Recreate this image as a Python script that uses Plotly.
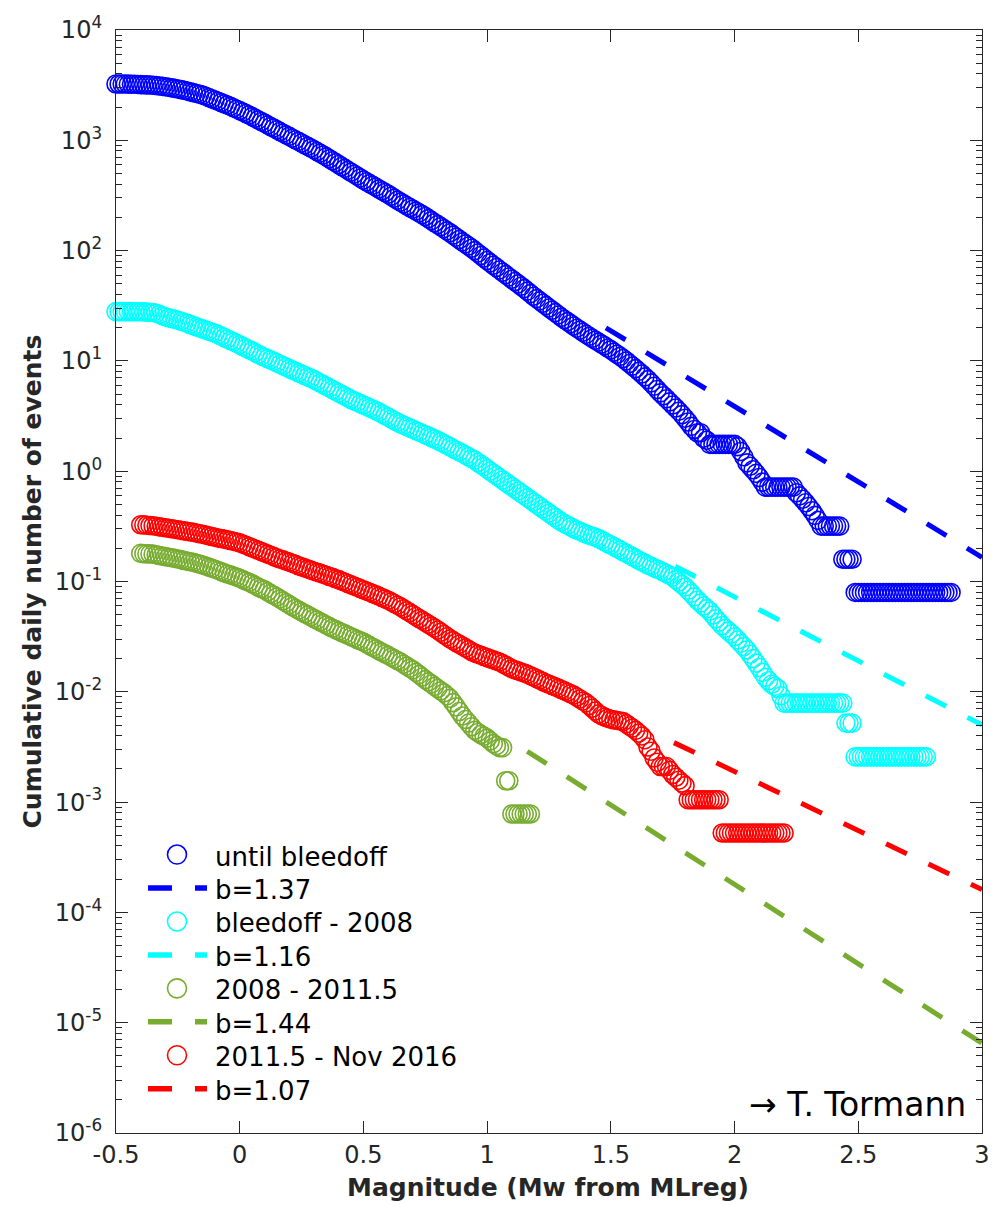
import plotly.graph_objects as go

# ---------------------------------------------------------------
# Cumulative daily event rates, binned every 0.0125 magnitude units
# ---------------------------------------------------------------
STEP = 0.0125

rate_until_bleedoff = [
    3240, 3240, 3240, 3235, 3230, 3225, 3220, 3210, 3200, 3190,
    3180, 3170, 3160, 3135, 3110, 3085, 3060, 3025, 2990, 2955,
    2920, 2880, 2840, 2795, 2750, 2705, 2660, 2615, 2570, 2505,
    2440, 2380, 2320, 2260, 2200, 2145, 2090, 2030, 1970, 1915,
    1860, 1805, 1750, 1695, 1640, 1585, 1530, 1480, 1430, 1380,
    1330, 1290, 1245, 1200, 1160, 1120, 1085, 1045, 1010, 977,
    944, 912, 880, 851, 822, 792, 763, 735, 708, 680,
    653, 628, 603, 579, 556, 534, 513, 493, 474, 455,
    437, 421, 405, 390, 376, 362, 349, 336, 324, 311,
    298, 286, 275, 265, 255, 246, 237, 228, 220, 212,
    204, 195, 187, 179, 172, 165, 158, 151, 145, 138,
    132, 126, 120, 115, 110, 105, 100, 95.0, 90.2, 85.6,
    81.3, 77.4, 73.7, 70.2, 66.8, 63.6, 60.6, 57.7, 55.0, 52.4,
    49.9, 47.5, 45.2, 42.9, 40.7, 38.6, 36.7, 35.0, 33.3, 31.7,
    30.2, 28.8, 27.4, 26.1, 24.8, 23.7, 22.7, 21.7, 20.7, 19.8,
    19.0, 18.2, 17.4, 16.7, 16.0, 15.4, 14.8, 14.2, 13.7, 13.1,
    12.6, 12.0, 11.5, 11.0, 10.5, 9.97, 9.46, 8.97, 8.51, 8.04,
    7.60, 7.17, 6.76, 6.32, 5.90, 5.50, 5.13, 4.83, 4.54, 4.25,
    3.98, 3.74, 3.50, 3.26, 3.02, 2.79, 2.55, 2.39, 2.23, 2.23,
    1.99, 1.91, 1.75, 1.75, 1.75, 1.75, 1.75, 1.75, 1.75, 1.75,
    1.75, 1.67, 1.51, 1.35, 1.19, 1.11, 1.03, 0.955, 0.876, 0.796,
    0.717, 0.717, 0.717, 0.717, 0.717, 0.717, 0.717, 0.717, 0.717, 0.717,
    0.637, 0.597, 0.557, 0.517, 0.478, 0.438, 0.398, 0.358, 0.318, 0.318,
    0.318, 0.318, 0.318, 0.318, 0.318, 0.159, 0.159, 0.159, 0.159,
] + [0.0796] * 32

rate_bleedoff_2008 = [
    28.0, 28.0, 28.0, 28.0, 28.0, 28.0, 27.9, 27.9, 27.9, 27.8,
    27.7, 27.6, 27.5, 27.0, 26.4, 25.7, 25.1, 24.6, 24.2, 23.8,
    23.4, 22.9, 22.4, 21.9, 21.4, 20.9, 20.4, 19.9, 19.5, 19.0,
    18.6, 18.2, 17.8, 17.3, 16.8, 16.3, 15.8, 15.3, 14.9, 14.4,
    14.0, 13.5, 13.1, 12.7, 12.3, 11.9, 11.5, 11.1, 10.8, 10.5,
    10.2, 9.90, 9.62, 9.33, 9.05, 8.78, 8.51, 8.27, 8.04, 7.81,
    7.59, 7.37, 7.16, 6.96, 6.76, 6.53, 6.31, 6.10, 5.89, 5.69,
    5.50, 5.31, 5.13, 4.96, 4.79, 4.63, 4.47, 4.34, 4.22, 4.10,
    3.98, 3.87, 3.76, 3.65, 3.55, 3.43, 3.31, 3.20, 3.09, 2.98,
    2.88, 2.78, 2.69, 2.61, 2.54, 2.47, 2.40, 2.33, 2.27, 2.20,
    2.14, 2.08, 2.02, 1.96, 1.91, 1.84, 1.78, 1.72, 1.66, 1.60,
    1.55, 1.50, 1.45, 1.40, 1.35, 1.30, 1.26, 1.20, 1.15, 1.10,
    1.05, 1.00, 0.955, 0.912, 0.871, 0.832, 0.794, 0.758, 0.724, 0.692,
    0.661, 0.631, 0.603, 0.576, 0.550, 0.525, 0.501, 0.479, 0.457, 0.437,
    0.417, 0.398, 0.380, 0.363, 0.347, 0.335, 0.324, 0.313, 0.302, 0.293,
    0.285, 0.277, 0.269, 0.263, 0.257, 0.251, 0.245, 0.237, 0.229, 0.221,
    0.214, 0.207, 0.200, 0.193, 0.186, 0.180, 0.174, 0.168, 0.162, 0.156,
    0.151, 0.146, 0.141, 0.137, 0.133, 0.129, 0.126, 0.122, 0.118, 0.114,
    0.110, 0.104, 0.0990, 0.0940, 0.0891, 0.0834, 0.0780, 0.0726, 0.0676, 0.0637,
    0.0600, 0.0568, 0.0537, 0.0497, 0.0460, 0.0428, 0.0398, 0.0376, 0.0355, 0.0335,
    0.0316, 0.0295, 0.0275, 0.0257, 0.0240, 0.0219, 0.0200, 0.0182, 0.0166, 0.0150,
    0.0135, 0.0126, 0.0117, 0.0112, 0.0107, 0.0092,
] + [0.0079] * 20 + [0.0052] * 3 + [0.00257] * 24

rate_2008_2011 = [
    0.180, 0.179, 0.178, 0.178, 0.177, 0.175, 0.172, 0.170, 0.168, 0.166,
    0.164, 0.162, 0.160, 0.158, 0.155, 0.153, 0.151, 0.149, 0.146, 0.144,
    0.141, 0.138, 0.135, 0.132, 0.129, 0.126, 0.123, 0.120, 0.117, 0.115,
    0.112, 0.110, 0.107, 0.104, 0.101, 0.0982, 0.0955, 0.0921, 0.0889, 0.0865,
    0.0841, 0.0808, 0.0776, 0.0750, 0.0724, 0.0695, 0.0667, 0.0642, 0.0617, 0.0593,
    0.0570, 0.0550, 0.0531, 0.0513, 0.0496, 0.0479, 0.0462, 0.0447, 0.0432, 0.0417,
    0.0403, 0.0390, 0.0377, 0.0366, 0.0355, 0.0345, 0.0335, 0.0325, 0.0316, 0.0307,
    0.0298, 0.0290, 0.0282, 0.0272, 0.0262, 0.0253, 0.0245, 0.0236, 0.0228, 0.0221,
    0.0214, 0.0206, 0.0199, 0.0192, 0.0186, 0.0178, 0.0171, 0.0164, 0.0158, 0.0150,
    0.0143, 0.0136, 0.0129, 0.0123, 0.0118, 0.0112, 0.0107, 0.0102, 0.00977, 0.00922,
    0.00871, 0.00797, 0.00730, 0.00663, 0.00603, 0.00560, 0.00520, 0.00482, 0.00447, 0.00428,
    0.00410, 0.00395, 0.00380, 0.00359, 0.00339, 0.00325, 0.00312, 0.00312, 0.00156, 0.00156,
] + [0.00078] * 7

rate_2011_2016 = [
    0.327, 0.326, 0.324, 0.322, 0.320, 0.317, 0.313, 0.310, 0.307, 0.304,
    0.301, 0.298, 0.295, 0.291, 0.288, 0.285, 0.282, 0.279, 0.275, 0.271,
    0.268, 0.264, 0.260, 0.256, 0.252, 0.248, 0.245, 0.242, 0.239, 0.235,
    0.231, 0.228, 0.224, 0.218, 0.213, 0.207, 0.202, 0.197, 0.192, 0.187,
    0.182, 0.177, 0.173, 0.168, 0.164, 0.160, 0.157, 0.153, 0.150, 0.146,
    0.143, 0.139, 0.136, 0.133, 0.130, 0.127, 0.124, 0.121, 0.119, 0.116,
    0.114, 0.111, 0.109, 0.106, 0.104, 0.101, 0.0985, 0.0959, 0.0933, 0.0909,
    0.0886, 0.0863, 0.0841, 0.0820, 0.0799, 0.0779, 0.0759, 0.0737, 0.0716, 0.0696,
    0.0676, 0.0653, 0.0631, 0.0610, 0.0589, 0.0566, 0.0543, 0.0522, 0.0501, 0.0481,
    0.0462, 0.0444, 0.0427, 0.0410, 0.0394, 0.0378, 0.0363, 0.0347, 0.0331, 0.0316,
    0.0302, 0.0291, 0.0280, 0.0270, 0.0260, 0.0250, 0.0241, 0.0232, 0.0224, 0.0219,
    0.0214, 0.0209, 0.0204, 0.0199, 0.0195, 0.0190, 0.0186, 0.0180, 0.0174, 0.0168,
    0.0162, 0.0158, 0.0155, 0.0151, 0.0148, 0.0144, 0.0140, 0.0136, 0.0132, 0.0128,
    0.0124, 0.0120, 0.0117, 0.0114, 0.0111, 0.0108, 0.0105, 0.0102, 0.00990, 0.00961,
    0.00933, 0.00896, 0.00860, 0.00826, 0.00794, 0.00751, 0.00710, 0.00669, 0.00631, 0.00610,
    0.00590, 0.00576, 0.00562, 0.00556, 0.00550, 0.00543, 0.00537, 0.00513, 0.00490, 0.00468,
    0.00447, 0.00422, 0.00398, 0.00368, 0.00316, 0.00289, 0.00251, 0.00230, 0.00210, 0.00210,
    0.00210, 0.00194, 0.00178, 0.00168, 0.00158, 0.00149, 0.00141, 0.00105,
] + [0.00105] * 10 + [0.000525] * 21

# first magnitude bin of each period
mag_start = [-0.5, -0.5, -0.4, -0.4]

series_names = ["until bleedoff", "bleedoff - 2008", "2008 - 2011.5", "2011.5 - Nov 2016"]
series_rates = [rate_until_bleedoff, rate_bleedoff_2008, rate_2008_2011, rate_2011_2016]
series_colors = ["#0000FF", "#00FFFF", "#77AC30", "#FF0000"]

# Gutenberg-Richter fits: log10 N = a - b*M, drawn from the completeness magnitude on
fit_b = [1.37, 1.16, 1.44, 1.07]
fit_a = [3.328, 1.18, -0.866, -0.583]
fit_mc = [1.48, 1.76, 1.162, 1.755]
fit_mmax = 3.0

x_tick_vals = [-0.5, 0, 0.5, 1, 1.5, 2, 2.5, 3]
x_tick_text = ["-0.5", "0", "0.5", "1", "1.5", "2", "2.5", "3"]
y_exponents = [-6, -5, -4, -3, -2, -1, 0, 1, 2, 3, 4]

AXIS_COLOR = "#262626"
FONT = "DejaVu Sans"

# plot-area geometry in page pixels (used for the hand-drawn legend)
PAGE_W, PAGE_H = 1003, 1206
M_L, M_R, M_T, M_B = 116, 21, 21, 73
PLOT_W = PAGE_W - M_L - M_R
PLOT_H = PAGE_H - M_T - M_B


def px_x(px):
    return (px - M_L) / PLOT_W


def px_y(py):
    return (PAGE_H - M_B - py) / PLOT_H


def bins(start, count):
    return [round(start + STEP * i, 4) for i in range(count)]


fig = go.Figure()

for name, rates, m0, color in zip(series_names, series_rates, mag_start, series_colors):
    fig.add_trace(go.Scatter(
        x=bins(m0, len(rates)), y=rates, mode="markers", name=name,
        cliponaxis=False,
        marker=dict(symbol="circle-open", size=18, color=color,
                    line=dict(width=1.6, color=color)),
    ))

for b, a, mc, color in zip(fit_b, fit_a, fit_mc, series_colors):
    xs = [mc, fit_mmax]
    ys = [10 ** (a - b * m) for m in xs]
    fig.add_trace(go.Scatter(
        x=xs, y=ys, mode="lines", name=f"b={b:.2f}",
        line=dict(color=color, width=5, dash="23px,24px"),
    ))

minor_vals = [k * 10 ** e for e in y_exponents[:-1] for k in range(2, 10)]

fig.update_layout(
    width=PAGE_W, height=PAGE_H,
    margin=dict(l=M_L, r=M_R, t=M_T, b=M_B),
    paper_bgcolor="white", plot_bgcolor="white",
    showlegend=False,
    xaxis=dict(
        range=[-0.5, 3], tickmode="array", tickvals=x_tick_vals, ticktext=x_tick_text,
        ticks="inside", ticklen=12, tickwidth=1.2, tickcolor=AXIS_COLOR,
        showline=True, linecolor=AXIS_COLOR, linewidth=1.2, mirror="ticks",
        showgrid=False, zeroline=False, ticklabelstandoff=0,
        tickfont=dict(family=FONT, size=24, color=AXIS_COLOR),
    ),
    yaxis=dict(
        type="log", range=[-6, 4], tickmode="array",
        tickvals=[10.0 ** e for e in y_exponents],
        ticktext=[f"10<sup>{e}</sup>" for e in y_exponents],
        ticks="inside", ticklen=12, tickwidth=1.2, tickcolor=AXIS_COLOR,
        showline=True, linecolor=AXIS_COLOR, linewidth=1.2, mirror="ticks",
        showgrid=False, zeroline=False, ticklabelstandoff=8,
        tickfont=dict(family=FONT, size=24, color=AXIS_COLOR),
        minor=dict(tickmode="array", tickvals=minor_vals, ticks="inside",
                   ticklen=6, tickwidth=1.2, tickcolor=AXIS_COLOR, showgrid=False),
    ),
)

annotations = [
    dict(text="Magnitude (Mw from MLreg)", xref="paper", yref="paper",
         x=px_x(548), y=px_y(1188), xanchor="center", yanchor="middle", showarrow=False,
         font=dict(family=FONT, size=25, color=AXIS_COLOR, weight="bold")),
    dict(text="Cumulative daily number of events", xref="paper", yref="paper",
         x=px_x(32), y=px_y(577), xanchor="center", yanchor="middle", showarrow=False,
         textangle=-90,
         font=dict(family=FONT, size=25, color=AXIS_COLOR, weight="bold")),
    dict(text="\u2192 T. Tormann", xref="paper", yref="paper",
         x=px_x(968), y=px_y(1104), xanchor="right", yanchor="middle", showarrow=False,
         font=dict(family=FONT, size=33, color="black")),
]

# legend: marker row then fit row for each period
shapes = []
ROW0, ROW_GAP = 852.3, 33.72
for i, (name, b, color) in enumerate(zip(series_names, fit_b, series_colors)):
    y_marker = ROW0 + ROW_GAP * (2 * i)
    y_line = ROW0 + ROW_GAP * (2 * i + 1)
    shapes.append(dict(
        type="circle", xref="paper", yref="paper", xsizemode="pixel", ysizemode="pixel",
        xanchor=px_x(177), yanchor=px_y(y_marker), x0=-9.5, x1=9.5, y0=-9.5, y1=9.5,
        line=dict(color=color, width=1.6),
    ))
    shapes.append(dict(
        type="line", xref="paper", yref="paper", xsizemode="pixel", ysizemode="pixel",
        xanchor=px_x(148), yanchor=px_y(y_line), x0=0, x1=59, y0=0, y1=0,
        line=dict(color=color, width=5.5, dash="24px,23px"),
    ))
    for text, yrow in ((name, y_marker), (f"b={b:.2f}", y_line)):
        annotations.append(dict(
            text=text, xref="paper", yref="paper", x=px_x(213), y=px_y(yrow + 2),
            xanchor="left", yanchor="middle", showarrow=False,
            font=dict(family=FONT, size=26, color="black"),
        ))

fig.update_layout(annotations=annotations, shapes=shapes)

fig.write_html("out.html")
